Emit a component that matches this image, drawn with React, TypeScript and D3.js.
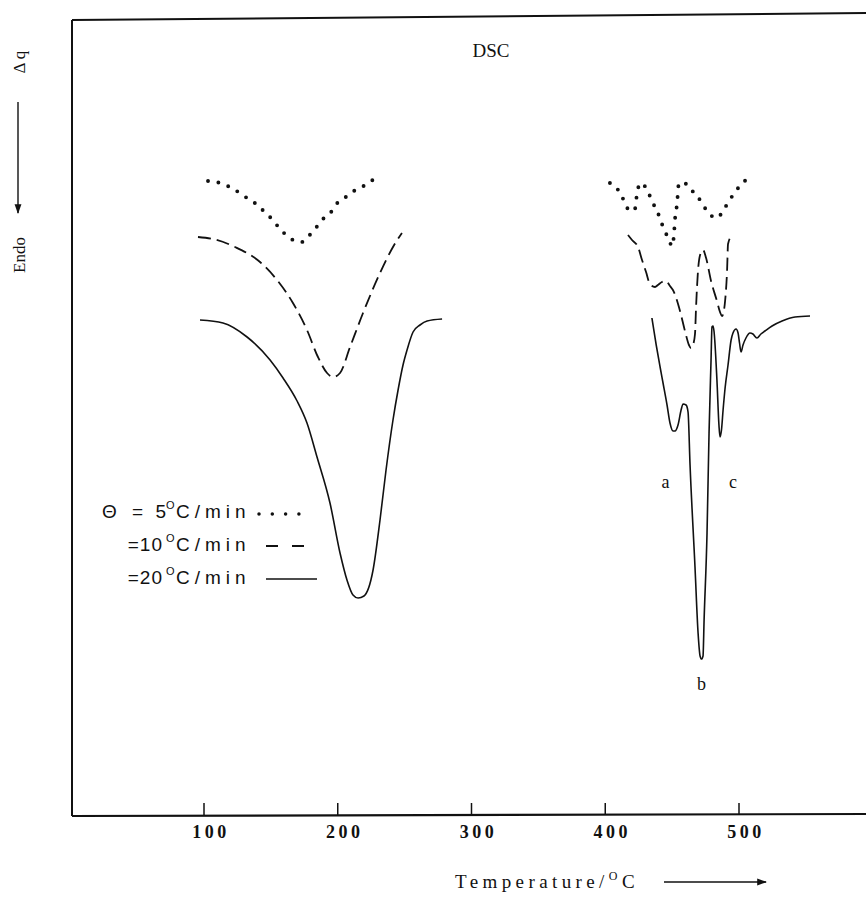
import React from "react";
import * as d3 from "d3";

const W = 866;
const H = 900;

// x axis ticks (°C)
const xTicks = [100, 200, 300, 400, 500];

// heating rates (°C/min) shown in the legend
const rates = ["5", "10", "20"];

// Θ = 5 °C/min (dotted) — temperature (°C) and Δq (arb. units)
const t5a = [103, 112, 122, 131, 139, 143, 150, 157, 164, 173, 179, 183, 189, 195, 199, 206, 212, 218, 223, 228];
const q5a = [634, 632, 626, 618, 611, 606, 597, 586, 577, 573, 580, 586, 596, 603, 611, 618, 624, 628, 632, 637];
const t5b = [403.5, 408.5, 412.7, 416.3, 421.5, 423.0, 423.7, 426.7, 431.7, 434.9, 439.4, 442.4, 446.3, 450.3, 451.6, 452.3, 453.6, 455.1, 461.1, 466.3, 471.5, 476.0, 483.5, 488.8, 494.0, 500.0, 506.7];
const q5b = [632, 627, 618, 607, 604, 612, 622, 632, 624, 614, 602, 591, 579, 569, 585, 598, 610, 632, 631, 622, 614, 604, 597, 606, 617, 628, 637];

// Θ = 10 °C/min (dashed)
const t10a = [95.5, 106.7, 123.2, 141.9, 154.6, 166.5, 177.0, 185.2, 192.0, 196.5, 201.7, 209.2, 218.9, 231.6, 241.3, 248.0];
const q10a = [578, 576, 568, 553, 535, 512, 485, 458, 442, 438, 442, 468, 502, 542, 568, 582];
const t10b = [417.0, 420.0, 424.5, 427.5, 430.5, 433.4, 437.2, 439.4, 442.4, 445.4, 448.4, 450.6, 455.9, 459.6, 462.6, 464.1, 465.6, 467.1, 467.9, 469.4, 470.9, 473.1, 475.4, 479.1, 483.5, 485.8, 487.3, 488.8, 489.6, 491.1, 491.8, 494.8];
const q10b = [580, 575, 568, 555, 543, 531, 528, 530, 533, 534, 529, 525, 504, 484, 470, 467, 470, 481, 508, 545, 560, 565, 557, 534, 514, 503, 499, 505, 514, 545, 571, 580];

// Θ = 20 °C/min (solid)
const t20a = [97.0, 114.2, 132.2, 149.4, 159.1, 169.6, 177.0, 184.5, 194.2, 201.7, 206.9, 211.4, 215.2, 219.6, 226.4, 231.6, 236.1, 241.3, 245.1, 248.8, 251.8, 256.3, 261.5, 266.8, 278.0];
const q20a = [495, 492, 478, 455, 437, 414, 392, 358, 312, 262, 235, 220, 217, 219, 245, 295, 345, 395, 425, 450, 465, 483, 490, 494, 496];
const t20b = [434.9, 438.1, 441.0, 443.2, 446.2, 448.4, 450.7, 452.2, 454.4, 456.7, 458.2, 460.4, 461.9, 463.4, 467.1, 469.4, 470.9, 472.0, 473.1, 473.9, 476.1, 477.6, 479.1, 479.8, 480.6, 481.3, 483.5, 485.0, 485.8, 486.9, 488.1, 489.6, 491.8, 494.1, 495.5, 497.8, 499.3, 500.4, 501.5, 503.0, 505.2, 508.2, 510.4, 513.4, 516.4, 519.4, 524.7, 532.2, 541.9, 553.1];
const q20b = [497, 470, 448, 432, 410, 392, 384, 384, 390, 405, 411, 410, 403, 350, 248, 182, 159, 156, 159, 195, 282, 382, 455, 488, 489, 484, 435, 390, 378, 385, 405, 427, 450, 475, 482, 486, 482, 472, 463, 470, 477, 482, 481, 477, 481, 484, 489, 494, 498, 499];

// peak labels: [label, temperature, Δq]
const peakNames = ["a", "b", "c"];
const peakT = [445, 472, 495.5];
const peakQ = [327, 125, 327];

const STYLES = [
  { width: 3.9, dash: "0 10.5", cap: "round" as const },
  { width: 1.8, dash: "13 6", cap: "butt" as const },
  { width: 1.6, dash: undefined, cap: "butt" as const },
];

const zip = (t: number[], q: number[]): [number, number][] => t.map((v, i) => [v, q[i]]);

const SERIES = [
  { rate: rates[0], segs: [zip(t5a, q5a), zip(t5b, q5b)], style: STYLES[0] },
  { rate: rates[1], segs: [zip(t10a, q10a), zip(t10b, q10b)], style: STYLES[1] },
  { rate: rates[2], segs: [zip(t20a, q20a), zip(t20b, q20b)], style: STYLES[2] },
];

export default function App() {
  const x = d3.scaleLinear().domain([0, 600]).range([70.25, 872.75]);
  const y = d3.scaleLinear().domain([0, 800]).range([815, 15]);
  const line = d3
    .line<[number, number]>()
    .x((d) => x(d[0]))
    .y((d) => y(d[1]))
    .curve(d3.curveMonotoneX);

  const left = 72;
  const top = 18;
  const bottom = y(0);
  const serif = "'Liberation Serif', 'DejaVu Serif', serif";
  const sans = "'Liberation Sans', Arial, sans-serif";
  const ink = "#111";

  const legendY = [512, 545, 578];

  return (
    <svg
      width={W}
      height={H}
      viewBox={`0 0 ${W} ${H}`}
      style={{ position: "absolute", left: 0, top: 0, background: "#fff" }}
    >
      <defs>
        <marker id="ah" viewBox="0 0 10 10" refX="9" refY="5" markerWidth="7" markerHeight="7" orient="auto">
          <path d="M0,1.5 L10,5 L0,8.5 Z" fill={ink} />
        </marker>
      </defs>
      <rect width={W} height={H} fill="#fff" />

      {/* frame */}
      <line x1={left} y1={top + 2} x2={W} y2={top - 5} stroke={ink} strokeWidth={2} />
      <line x1={left} y1={top + 2} x2={left} y2={bottom + 1} stroke={ink} strokeWidth={2} />
      <line x1={left} y1={bottom + 1} x2={W} y2={bottom - 1} stroke={ink} strokeWidth={2.2} />

      {/* x ticks */}
      {xTicks.map((t) => (
        <g key={t}>
          <line x1={x(t)} x2={x(t)} y1={bottom} y2={bottom - 12} stroke={ink} strokeWidth={1.5} />
          <text
            x={x(t) + 7}
            y={bottom + 23}
            textAnchor="middle"
            fontFamily={serif}
            fontWeight="bold"
            fontSize={18}
            letterSpacing={3.5}
            fill={ink}
          >
            {t}
          </text>
        </g>
      ))}

      {/* x label */}
      <text x={455} y={888} fontFamily={serif} fontSize={19} letterSpacing={4.4} fill={ink}>
        Temperature/
        <tspan fontSize={12} dy={-8}>O</tspan>
        <tspan dy={8}>C</tspan>
      </text>
      <line x1={664} y1={882} x2={766} y2={882} stroke={ink} strokeWidth={1.4} markerEnd="url(#ah)" />

      {/* y label */}
      <text transform="translate(25,255) rotate(-90)" textAnchor="middle" fontFamily={serif} fontSize={17} fill={ink}>
        Endo
      </text>
      <line x1={18} y1={102} x2={18} y2={213} stroke={ink} strokeWidth={1.4} markerEnd="url(#ah)" />
      <text transform="translate(25,62) rotate(-90)" textAnchor="middle" fontFamily={serif} fontSize={17} fill={ink}>
        Δ q
      </text>

      {/* title */}
      <text x={491} y={57} textAnchor="middle" fontFamily={serif} fontSize={19} fill={ink}>
        DSC
      </text>

      {/* curves */}
      {SERIES.map((s) =>
        s.segs.map((seg, i) => (
          <path
            key={s.rate + "-" + i}
            d={line(seg) || ""}
            fill="none"
            stroke={ink}
            strokeWidth={s.style.width}
            strokeDasharray={s.style.dash}
            strokeLinecap={s.style.cap}
            strokeLinejoin="round"
          />
        ))
      )}

      {/* peak labels */}
      {peakNames.map((n, i) => (
        <text
          key={n}
          x={x(peakT[i])}
          y={y(peakQ[i])}
          textAnchor="middle"
          fontFamily={serif}
          fontSize={18}
          fill={ink}
        >
          {n}
        </text>
      ))}

      {/* legend */}
      {SERIES.map((s, i) => (
        <g key={"lg" + s.rate} fontFamily={sans} fontSize={19} fill={ink}>
          {i === 0 && (
            <text x={102} y={legendY[i] + 6}>
              Θ
            </text>
          )}
          {i === 0 ? (
            <>
              <text x={132} y={legendY[i] + 6}>=</text>
              <text x={166} y={legendY[i] + 6} textAnchor="end">{s.rate}</text>
            </>
          ) : (
            <text x={163} y={legendY[i] + 6} textAnchor="end" letterSpacing={1}>
              ={s.rate}
            </text>
          )}
          <text x={166} y={legendY[i] - 3} fontSize={11}>O</text>
          <text x={176} y={legendY[i] + 6} letterSpacing={5}>C/min</text>
          <path
            d={`M${i === 0 ? 259 : 266},${legendY[i] + (i === 0 ? 2 : 1)} L${i === 0 ? 299 : i === 1 ? 309 : 317},${legendY[i] + (i === 0 ? 2 : 1)}`}
            fill="none"
            stroke={ink}
            strokeWidth={i === 0 ? 3.5 : s.style.width}
            strokeDasharray={i === 0 ? "0 13.3" : i === 1 ? "12 14" : undefined}
            strokeLinecap={s.style.cap}
          />
        </g>
      ))}
    </svg>
  );
}
